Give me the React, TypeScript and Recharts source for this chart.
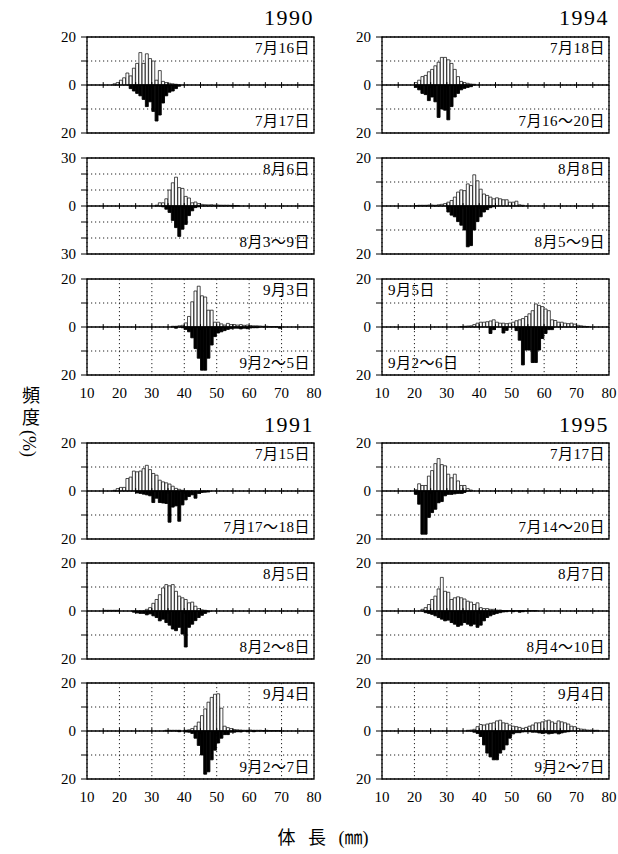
import React from "react";
import {
  BarChart,
  Bar,
  XAxis,
  YAxis,
  CartesianGrid,
  ReferenceLine,
  ReferenceArea,
} from "recharts";

// Length-frequency histograms, 1 mm classes. "up" = upper (hatched) sample,
// "down" = lower (black) sample, both in % of fish.

const SERIF = '"Liberation Serif", "Noto Sans CJK JP", serif';

const X_TICKS = [10, 20, 30, 40, 50, 60, 70, 80];
const ZERO_MARKS = [15, 20, 25, 30, 35, 40, 45, 50, 55, 60, 65, 70, 75];
const Y_TICKS_20 = [-20, -10, 0, 10, 20];
const Y_TICKS_30 = [-30, -20, -10, 0, 10, 20, 30];

// 1990
const up90Jul = [0.5, 1, 2, 3, 5, 3.8, 7, 9, 13.5, 9, 13, 11, 10, 2, 6, 1.5, 1, 0.7, 0.5, 0.3];
const down90Jul = [1.5, 2.5, 3.5, 4.5, 6, 9, 7, 11, 15, 12.5, 7.5, 4.5, 3, 2.5, 1.5, 0.5];
const up90Aug = [0.5, 2, 2, 4.5, 10, 14.5, 18, 11.5, 11, 6, 5, 2, 2.5, 1.5, 1, 0.8, 0.7, 0.8, 0.6, 0.6, 0.5, 0.5, 0.5, 0.4, 0.3, 0.3];
const down90Aug = [0.5, 2, 4, 9, 13.5, 19, 14.5, 11.5, 6, 3, 1, 0.5];
const up90Sep = [0.3, 0.3, 0.5, 0.7, 1.7, 4.4, 10.5, 15, 17, 13, 12.5, 7, 7, 2, 2, 1.3, 0.8, 1.5, 1, 1, 0.8, 1, 0.7, 0.8, 0.6, 0.5, 0.5, 0.4, 0.3, 0.3, 0.2, 0.2, 0.2];
const down90Sep = [0.5, 0, 0.3, 1, 2, 4.5, 9, 13, 18, 18, 13, 7.5, 4, 2.5, 2, 1.5, 1, 0.7, 0.5, 0.5, 0.8, 0.5, 0.7, 0.4, 0.3, 0.3, 0, 0, 0, 0, 0, 0, 0.5];

// 1994
const up94Jul = [1, 2, 3.5, 4, 5.5, 6.5, 8, 9.5, 11.5, 11.5, 10.5, 9, 6.5, 3.5, 1.5, 1, 0.7, 0.4, 0.3];
const down94Jul = [1, 2, 3.5, 4, 6.5, 5, 7, 13.5, 10, 10.5, 14.5, 9, 5, 3.5, 2, 1.4, 1, 0.7];
const up94Aug = [0.2, 0.3, 0.3, 0.3, 0.4, 0.4, 0.3, 0.5, 0.7, 1, 1.6, 2.3, 3.7, 5.8, 6.7, 6.4, 9.2, 8.5, 13, 10.5, 7, 5, 4.4, 3.7, 3, 3.4, 3, 2.6, 2.6, 1.6, 1.6, 2, 0.5, 0.3];
const down94Aug = [2.5, 3.8, 4.5, 6.5, 8, 10, 17, 16.5, 10, 6.5, 4.5, 2.5, 1.5, 0.7, 0.3];
const up94Sep = [0.2, 0.3, 0.4, 0.5, 1, 1.6, 2, 2, 2.2, 2.5, 3, 2, 1.6, 1.6, 1.4, 1.6, 2, 2.6, 3, 3.5, 4.4, 5.5, 6.8, 9.6, 9, 8.5, 7.5, 6.8, 3, 2.7, 2, 2, 1.6, 1.4, 1.6, 1.2, 0.7, 0.5, 0.3, 0.2];
const down94Sep = [2.7, 1.1, 0, 0, 2.5, 1.4, 0, 0, 1.5, 5.5, 15.8, 9.6, 9.6, 14.8, 14.8, 9.6, 4.8, 2.7, 1.1, 1.1];

// 1991
const up91Jul = [0.3, 1, 1.5, 1.5, 5.2, 5.8, 8.3, 8, 8.3, 9.3, 10.7, 8.9, 7.3, 6.6, 4.5, 3.8, 3.4, 2.9, 2, 1.1, 0.7, 0.3];
const down91Jul = [0.8, 1, 1.3, 1.6, 2, 4.8, 3, 4.8, 5, 5.2, 13, 6.7, 6.2, 12.6, 5.8, 3.7, 2.3, 1.6, 3, 1, 0.6, 0.5, 0.4];
const up91Aug = [0.3, 0.3, 0.3, 0.3, 0.3, 0, 0, 0, 0, 0, 0, 0, 0, 0.7, 1.4, 3.2, 4.8, 6.8, 9.6, 11, 10.5, 11, 8.2, 6.2, 5.5, 4.8, 3.4, 3.7, 2, 1, 0.5, 0.3];
const down91Aug = [0.5, 0.8, 1, 1, 1.6, 1.2, 2, 2.7, 4.1, 3.4, 4.8, 5.9, 7.5, 8.2, 6.8, 9.6, 15, 6.8, 5.5, 4, 2.7, 1.8, 1, 0.4];
const up91Sep = [0.3, 0.3, 0.3, 0.3, 0.3, 0, 0.3, 0.5, 1, 2, 3.7, 6.4, 9.2, 12, 14, 15.3, 15.5, 9.5, 2, 1.4, 1, 0.6, 0.5, 0.4, 0.3, 0.3, 0.4, 0.3, 0.3, 0.3, 0.2, 0.3, 0.2, 0.2, 0.2, 0.2];
const down91Sep = [0.3, 0, 0.4, 0.5, 1, 3, 6, 10, 18, 17, 12, 8, 5, 3, 1.5, 1.5, 0.5, 0.5, 0.3, 0.4, 0, 0.3, 0, 0.3];

// 1995
const up95Jul = [0.5, 3, 2.3, 2.3, 6.2, 8.5, 11.4, 13.5, 11, 10.5, 7, 5.5, 7, 4.2, 2.3, 2.3, 1, 0.4];
const down95Jul = [1.4, 5.5, 18, 18, 11, 9, 7.6, 4.9, 4.4, 2, 1.4, 1.4, 1.2, 1, 1, 0.6];
const up95Aug = [0.7, 1.4, 2.7, 4.8, 6.2, 9.2, 14, 8.2, 7.8, 4.8, 5.5, 5.9, 5.5, 5, 4.1, 3.7, 2.7, 3.4, 1.4, 1, 1, 0.7, 0.7, 0.4, 0.4, 0.2, 0.2, 0.2, 0.2, 0.2, 0.2, 0.2, 0.2, 0.2, 0.2, 0.2];
const down95Aug = [0.7, 1, 1.4, 2, 2.7, 3.4, 4.1, 3.8, 4.8, 5.5, 6.4, 5.9, 4.8, 5.5, 6.2, 5.5, 6.8, 5.9, 4.1, 2.7, 2, 1.4, 1, 0.7, 0.4, 0.3, 0, 0.3, 0, 0.5, 0.3];
const up95Sep = [0.3, 0.4, 0.7, 1.8, 2.7, 2.5, 2.9, 3.2, 3.4, 4.2, 4.5, 3.4, 3.2, 2.5, 2, 1.8, 1.5, 1.1, 1.5, 2, 2.5, 3.4, 3.4, 3.8, 4.2, 4.5, 3.8, 3.2, 4.2, 3.8, 3.4, 2.9, 2, 1.8, 1.1, 0.8, 0.7, 0.4, 0.4, 0.3, 0.3];
const down95Sep = [0.5, 1, 2.3, 5.8, 9.2, 10.8, 12, 12, 9.2, 7.8, 5.8, 3, 1.2, 0.7, 0.7, 0.4, 0.3, 0.3, 0.5, 0.5, 0.8, 1, 0.8, 1.2, 1, 0.8, 1.2, 0.8, 0.5, 0.3];

type Hist = {
  upFrom: number;
  up: number[];
  downFrom: number;
  down: number[];
  yMax: number;
  dates: [string, string];
  labelSide?: "left" | "right";
};

const PANELS: Hist[][] = [
  // left column: 1990 then 1991
  [
    { upFrom: 18, up: up90Jul, downFrom: 23, down: down90Jul, yMax: 20, dates: ["7月16日", "7月17日"] },
    { upFrom: 31, up: up90Aug, downFrom: 33, down: down90Aug, yMax: 30, dates: ["8月6日", "8月3〜9日"] },
    { upFrom: 36, up: up90Sep, downFrom: 37, down: down90Sep, yMax: 20, dates: ["9月3日", "9月2〜5日"] },
    { upFrom: 18, up: up91Jul, downFrom: 25, down: down91Jul, yMax: 20, dates: ["7月15日", "7月17〜18日"] },
    { upFrom: 15, up: up91Aug, downFrom: 24, down: down91Aug, yMax: 20, dates: ["8月5日", "8月2〜8日"] },
    { upFrom: 34, up: up91Sep, downFrom: 38, down: down91Sep, yMax: 20, dates: ["9月4日", "9月2〜7日"] },
  ],
  // right column: 1994 then 1995
  [
    { upFrom: 20, up: up94Jul, downFrom: 20, down: down94Jul, yMax: 20, dates: ["7月18日", "7月16〜20日"] },
    { upFrom: 20, up: up94Aug, downFrom: 30, down: down94Aug, yMax: 20, dates: ["8月8日", "8月5〜9日"] },
    { upFrom: 34, up: up94Sep, downFrom: 43, down: down94Sep, yMax: 20, dates: ["9月5日", "9月2〜6日"], labelSide: "left" },
    { upFrom: 20, up: up95Jul, downFrom: 20, down: down95Jul, yMax: 20, dates: ["7月17日", "7月14〜20日"] },
    { upFrom: 22, up: up95Aug, downFrom: 23, down: down95Aug, yMax: 20, dates: ["8月7日", "8月4〜10日"] },
    { upFrom: 36, up: up95Sep, downFrom: 38, down: down95Sep, yMax: 20, dates: ["9月4日", "9月2〜7日"] },
  ],
];

const YEARS = [
  ["1990", "1991"],
  ["1994", "1995"],
];

// layout (px)
const COL_X = [87, 382];
const PLOT_W = 227;
const PLOT_H = 96;
const ROW_Y = [37, 158, 279, 443, 563, 683];
const Y_AXIS_W = 44;

function toRows(h: Hist) {
  const rows = [];
  for (let b = 10; b < 80; b++) {
    const u = h.up[b - h.upFrom] ?? 0;
    const d = h.down[b - h.downFrom] ?? 0;
    rows.push({ x: b + 0.5, up: u, down: -d });
  }
  return rows;
}

function Panel({ h, x0, y0, showX }: { h: Hist; x0: number; y0: number; showX: boolean }) {
  const mTop = 10;
  const mRight = 10;
  const mBottom = 10;
  const xH = showX ? 30 : 0;
  const width = Y_AXIS_W + PLOT_W + mRight;
  const height = mTop + PLOT_H + xH + mBottom;
  const yMax = h.yMax;
  const yTicks = yMax === 30 ? Y_TICKS_30 : Y_TICKS_20;
  const mark = yMax * 0.06;
  const rows = toRows(h);
  const left = h.labelSide === "left";

  const labelStyle: React.CSSProperties = {
    position: "absolute",
    fontFamily: SERIF,
    fontSize: 15,
    letterSpacing: 0.5,
    lineHeight: "16px",
    whiteSpace: "nowrap",
    ...(left ? { left: x0 + 6 } : { right: 618 - (x0 + PLOT_W - 4) }),
  };

  return (
    <>
      <div style={{ position: "absolute", left: x0 - Y_AXIS_W, top: y0 - mTop }}>
        <BarChart
          width={width}
          height={height}
          data={rows}
          margin={{ top: mTop, right: mRight, bottom: mBottom, left: 0 }}
          stackOffset="sign"
          barSize={PLOT_W / 70}
          barGap={0}
          barCategoryGap={0}
        >
          <CartesianGrid stroke="#222" strokeDasharray="1.2 2.8" />
          <XAxis
            type="number"
            dataKey="x"
            domain={[10, 80]}
            ticks={X_TICKS}
            interval={0}
            allowDataOverflow
            height={xH}
            tick={showX ? { fontSize: 15, fill: "#000", fontFamily: SERIF } : false}
            tickLine={false}
            axisLine={false}
            tickSize={0}
            tickMargin={12}
          />
          <YAxis
            type="number"
            domain={[-yMax, yMax]}
            ticks={yTicks}
            interval={0}
            allowDataOverflow
            width={Y_AXIS_W}
            axisLine={false}
            tickLine={{ stroke: "#000" }}
            tickSize={6}
            tickMargin={5}
            tick={{ fontSize: 15, fill: "#000", fontFamily: SERIF }}
            tickFormatter={(v: number) => (v === 0 || Math.abs(v) === yMax ? String(Math.abs(v)) : "")}
          />
          <Bar dataKey="up" stackId="h" fill="#fff" stroke="#000" strokeWidth={0.7} isAnimationActive={false} />
          <Bar dataKey="down" stackId="h" fill="#000" stroke="#000" strokeWidth={0.9} isAnimationActive={false} />
          <ReferenceLine y={0} stroke="#000" strokeWidth={1.3} />
          {ZERO_MARKS.map((m) => (
            <ReferenceLine
              key={m}
              segment={[
                { x: m, y: -mark },
                { x: m, y: mark },
              ]}
              stroke="#000"
              strokeWidth={1}
            />
          ))}
          <ReferenceArea
            x1={10}
            x2={80}
            y1={-yMax}
            y2={yMax}
            fill="none"
            stroke="#000"
            strokeWidth={1.3}
            ifOverflow="visible"
          />
        </BarChart>
      </div>
      <div style={{ ...labelStyle, top: y0 + 3 }}>{h.dates[0]}</div>
      <div style={{ ...labelStyle, top: y0 + PLOT_H - 20 }}>{h.dates[1]}</div>
    </>
  );
}

export default function App() {
  return (
    <div
      style={{
        position: "absolute",
        left: 0,
        top: 0,
        width: 618,
        height: 854,
        background: "#fff",
        fontFamily: SERIF,
        color: "#000",
      }}
    >
      {PANELS.map((col, ci) =>
        col.map((h, ri) => (
          <Panel key={`${ci}-${ri}`} h={h} x0={COL_X[ci]} y0={ROW_Y[ri]} showX={ri === 2 || ri === 5} />
        ))
      )}
      {YEARS.map((pair, ci) =>
        pair.map((yr, gi) => (
          <div
            key={yr}
            style={{
              position: "absolute",
              right: 618 - (COL_X[ci] + PLOT_W),
              top: gi === 0 ? 5 : 412,
              fontSize: 22,
              letterSpacing: 1.5,
              lineHeight: "26px",
              fontFamily: SERIF,
            }}
          >
            {yr}
          </div>
        ))
      )}
      <div
        style={{
          position: "absolute",
          left: 16,
          top: 386,
          writingMode: "vertical-rl",
          fontSize: 18,
          fontFamily: SERIF,
        }}
      >
        <span style={{ letterSpacing: 4 }}>頻度</span>
        <span>(%)</span>
      </div>
      <div
        style={{
          position: "absolute",
          left: 0,
          width: 646,
          top: 823,
          textAlign: "center",
          fontSize: 18,
          fontFamily: SERIF,
          wordSpacing: 8,
        }}
      >
        体 長 (㎜)
      </div>
    </div>
  );
}
